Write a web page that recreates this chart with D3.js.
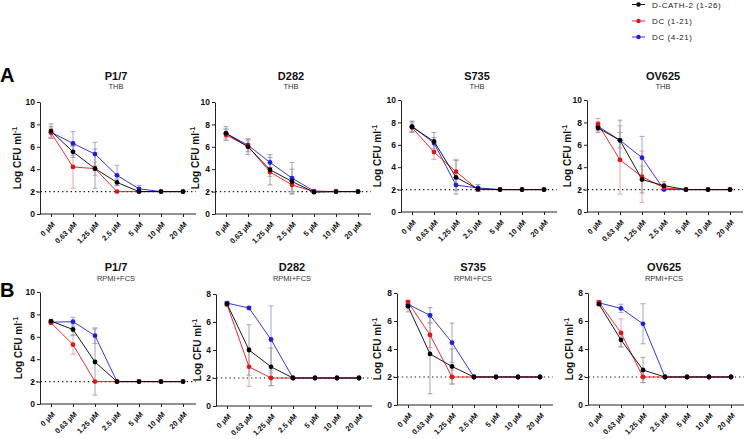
<!DOCTYPE html>
<html><head><meta charset="utf-8">
<script src="https://cdn.jsdelivr.net/npm/d3@7"></script>
<style>
html,body{margin:0;padding:0;background:#fff;}
svg{display:block;font-family:"Liberation Sans",Arial,sans-serif;}
</style></head>
<body>
<svg id="c" width="744" height="439"></svg>
<script>
// ---------- DATA ----------
const concentrations = ["0 µM","0.63 µM","1.25 µM","2.5 µM","5 µM","10 µM","20 µM"];
const seriesNames = ["D-CATH-2 (1-26)","DC (1-21)","DC (4-21)"];
const strains = ["P1/7","D282","S735","OV625"];
const media = ["THB","RPMI+FCS"];
const yMaxTHB = [10,10,10,10];
const yMaxRPMI = [10,8,8,8];
const yTicks10 = [0,2,4,6,8,10];
const yTicks8 = [0,2,4,6,8];
const detectionLimit = 2;

// THB
const thb_P17_cath   = [7.4,5.55,4.05,2.82,2.0,2,2];
const thb_P17_cath_sd= [0.65,0.5,1.75,0.3,0.1,0,0];
const thb_P17_dc121  = [7.25,4.2,4.05,2.0,2.0,2,2];
const thb_P17_dc121_sd=[0.4,1.9,0.6,0,0,0,0];
const thb_P17_dc421  = [7.3,6.3,5.35,3.45,2.25,2,2];
const thb_P17_dc421_sd=[0.5,1.05,1.05,0.9,0.3,0,0];

const thb_D282_cath   = [7.2,6.0,3.95,2.9,1.95,2,2];
const thb_D282_cath_sd= [0.6,0.7,1.35,1.1,0.05,0,0];
const thb_D282_dc121  = [7.05,6.05,3.75,2.6,2.0,2,2];
const thb_D282_dc121_sd=[0.5,0.5,0.4,0.6,0,0,0];
const thb_D282_dc421  = [7.2,6.15,4.6,3.2,2.05,2,2];
const thb_D282_dc421_sd=[0.4,0.55,0.45,1.4,0,0,0];

const thb_S735_cath   = [7.6,6.3,3.1,2.05,2,2,2];
const thb_S735_cath_sd= [0.5,0.8,1.5,0.2,0,0,0];
const thb_S735_dc121  = [7.55,5.35,3.6,2.0,2,2,2];
const thb_S735_dc121_sd=[0.4,0.65,1.1,0,0,0,0];
const thb_S735_dc421  = [7.65,6.15,2.4,2.15,2,2,2];
const thb_S735_dc421_sd=[0.45,0.5,0.5,0.3,0,0,0];

const thb_OV625_cath   = [7.5,6.4,2.9,2.35,2,2,2];
const thb_OV625_cath_sd= [0.4,1.8,1.2,0.35,0,0,0];
const thb_OV625_dc121  = [7.85,4.65,3.15,2.15,2,2,2];
const thb_OV625_dc121_sd=[0.5,3.05,2.3,0.2,0,0,0];
const thb_OV625_dc421  = [7.65,6.4,4.85,2.0,2,2,2];
const thb_OV625_dc421_sd=[0.4,0.7,1.9,0,0,0,0];

// RPMI+FCS
const rpmi_P17_cath   = [7.4,6.65,3.75,2,2,2,2];
const rpmi_P17_cath_sd= [0.1,0.5,2.95,0,0,0,0];
const rpmi_P17_dc121  = [7.25,5.3,2.0,2,2,2,2];
const rpmi_P17_dc121_sd=[0.1,0.85,0,0,0,0,0];
const rpmi_P17_dc421  = [7.3,7.35,6.1,2,2,2,2];
const rpmi_P17_dc421_sd=[0.1,0.4,0.7,0,0,0,0];

const rpmi_D282_cath   = [7.3,4.0,2.8,2,2,2,2];
const rpmi_D282_cath_sd= [0.1,1.8,1.35,0,0,0,0];
const rpmi_D282_dc121  = [7.25,2.8,2.0,2,2,2,2];
const rpmi_D282_dc121_sd=[0.1,1.4,0.55,0,0,0,0];
const rpmi_D282_dc421  = [7.35,7.0,4.75,2,2,2,2];
const rpmi_D282_dc421_sd=[0.1,0.1,2.4,0,0,0,0];

const rpmi_S735_cath   = [7.05,3.65,2.75,2,2,2,2];
const rpmi_S735_cath_sd= [0.4,2.85,1.25,0,0,0,0];
const rpmi_S735_dc121  = [7.35,5.0,2.0,2,2,2,2];
const rpmi_S735_dc121_sd=[0.15,0.9,0.5,0,0,0,0];
const rpmi_S735_dc421  = [7.2,6.4,4.45,2,2,2,2];
const rpmi_S735_dc421_sd=[0.2,0.55,1.4,0,0,0,0];

const rpmi_OV625_cath   = [7.2,4.65,2.5,2,2,2,2];
const rpmi_OV625_cath_sd= [0.1,0.5,0.9,0,0,0,0];
const rpmi_OV625_dc121  = [7.35,5.15,2.0,2,2,2,2];
const rpmi_OV625_dc121_sd=[0.1,1.0,0.4,0,0,0,0];
const rpmi_OV625_dc421  = [7.3,6.9,5.8,2,2,2,2];
const rpmi_OV625_dc421_sd=[0.1,0.3,1.43,0,0,0,0];

// ---------- STYLE / LAYOUT ----------
const colors = ["#000000","#e3141b","#1f1fd6"];
const errColors = ["#9a9a9a","#e89a9c","#9a9ad8"];

const panels = [
  {strain:0, medium:0, yMax:yMaxTHB[0], ticks:yTicks10, s:[[thb_P17_cath,thb_P17_cath_sd],[thb_P17_dc121,thb_P17_dc121_sd],[thb_P17_dc421,thb_P17_dc421_sd]]},
  {strain:1, medium:0, yMax:yMaxTHB[1], ticks:yTicks10, s:[[thb_D282_cath,thb_D282_cath_sd],[thb_D282_dc121,thb_D282_dc121_sd],[thb_D282_dc421,thb_D282_dc421_sd]]},
  {strain:2, medium:0, yMax:yMaxTHB[2], ticks:yTicks10, s:[[thb_S735_cath,thb_S735_cath_sd],[thb_S735_dc121,thb_S735_dc121_sd],[thb_S735_dc421,thb_S735_dc421_sd]]},
  {strain:3, medium:0, yMax:yMaxTHB[3], ticks:yTicks10, s:[[thb_OV625_cath,thb_OV625_cath_sd],[thb_OV625_dc121,thb_OV625_dc121_sd],[thb_OV625_dc421,thb_OV625_dc421_sd]]},
  {strain:0, medium:1, yMax:yMaxRPMI[0], ticks:yTicks10, s:[[rpmi_P17_cath,rpmi_P17_cath_sd],[rpmi_P17_dc121,rpmi_P17_dc121_sd],[rpmi_P17_dc421,rpmi_P17_dc421_sd]]},
  {strain:1, medium:1, yMax:yMaxRPMI[1], ticks:yTicks8, s:[[rpmi_D282_cath,rpmi_D282_cath_sd],[rpmi_D282_dc121,rpmi_D282_dc121_sd],[rpmi_D282_dc421,rpmi_D282_dc421_sd]]},
  {strain:2, medium:1, yMax:yMaxRPMI[2], ticks:yTicks8, s:[[rpmi_S735_cath,rpmi_S735_cath_sd],[rpmi_S735_dc121,rpmi_S735_dc121_sd],[rpmi_S735_dc421,rpmi_S735_dc421_sd]]},
  {strain:3, medium:1, yMax:yMaxRPMI[3], ticks:yTicks8, s:[[rpmi_OV625_cath,rpmi_OV625_cath_sd],[rpmi_OV625_dc121,rpmi_OV625_dc121_sd],[rpmi_OV625_dc421,rpmi_OV625_dc421_sd]]}
];
const layout = [
  {ax:40,  y0:214, yTop:102, lx:17,  ty:80,  sy:89},
  {ax:215, y0:214, yTop:102, lx:195, ty:80,  sy:89},
  {ax:401, y0:212, yTop:100, lx:377, ty:80,  sy:89},
  {ax:587, y0:212, yTop:100, lx:567, ty:80,  sy:89},
  {ax:40,  y0:404, yTop:292, lx:18,  ty:271, sy:281},
  {ax:216, y0:406, yTop:294, lx:197, ty:271, sy:281},
  {ax:397, y0:405, yTop:293, lx:377, ty:271, sy:281},
  {ax:588, y0:405, yTop:293, lx:569, ty:271, sy:281}
];

const svg = d3.select("#c");

panels.forEach((p,i)=>{
  const L = layout[i];
  const g = svg.append("g");
  const x = d3.scalePoint().domain(concentrations).range([L.ax+11, L.ax+143]);
  const y = d3.scaleLinear().domain([0,p.yMax]).range([L.y0, L.yTop]);

  // y axis
  const ya = g.append("g").attr("transform",`translate(${L.ax},0)`)
    .call(d3.axisLeft(y).tickValues(p.ticks).tickSize(3).tickSizeOuter(0).tickPadding(2));
  ya.select(".domain").attr("stroke","#222").attr("stroke-width",1);
  ya.selectAll(".tick line").attr("stroke","#222");
  ya.selectAll("text").attr("font-size","8.5px").attr("font-weight","bold").attr("fill","#111");

  // x axis
  const xa = g.append("g").attr("transform",`translate(0,${L.y0})`)
    .call(d3.axisBottom(x).tickSize(3).tickSizeOuter(0));
  xa.select(".domain").remove();
  xa.append("line").attr("x1",L.ax).attr("x2",L.ax+156).attr("y1",0).attr("y2",0)
    .attr("stroke","#222").attr("stroke-width",1);
  xa.selectAll(".tick line").attr("stroke","#222");
  xa.selectAll(".tick text")
    .attr("font-size","7.5px").attr("font-weight","bold").attr("fill","#111")
    .attr("text-anchor","end").attr("y",0).attr("dy","0.35em")
    .attr("transform","translate(2,9) rotate(-45)");

  // detection limit
  g.append("line").attr("x1",L.ax-8).attr("x2",L.ax+156)
    .attr("y1",y(detectionLimit)).attr("y2",y(detectionLimit))
    .attr("stroke","#111").attr("stroke-width",1.1).attr("stroke-dasharray","1.3,3");

  // error bars
  [2,1,0].forEach(k=>{
    const [vals,sd] = p.s[k];
    vals.forEach((v,j)=>{
      if(sd[j]<=0) return;
      const cx = x(concentrations[j]);
      const eg = g.append("g").attr("stroke",errColors[k]).attr("stroke-width",0.9);
      eg.append("line").attr("x1",cx).attr("x2",cx).attr("y1",y(v-sd[j])).attr("y2",y(v+sd[j]));
      eg.append("line").attr("x1",cx-2.5).attr("x2",cx+2.5).attr("y1",y(v-sd[j])).attr("y2",y(v-sd[j]));
      eg.append("line").attr("x1",cx-2.5).attr("x2",cx+2.5).attr("y1",y(v+sd[j])).attr("y2",y(v+sd[j]));
    });
  });

  // lines and points
  const line = d3.line().x((d,j)=>x(concentrations[j])).y(d=>y(d));
  [2,1,0].forEach(k=>{
    const vals = p.s[k][0];
    g.append("path").datum(vals).attr("d",line).attr("fill","none")
      .attr("stroke",colors[k]).attr("stroke-width",0.9);
  });
  [2,1,0].forEach(k=>{
    const vals = p.s[k][0];
    g.selectAll(null).data(vals).enter().append("circle")
      .attr("cx",(d,j)=>x(concentrations[j])).attr("cy",d=>y(d)).attr("r",2.4)
      .attr("fill",colors[k]);
  });

  // titles
  const cx = L.ax+76;
  g.append("text").attr("x",cx).attr("y",L.ty).attr("text-anchor","middle")
    .attr("font-size","11px").attr("font-weight","bold").attr("fill","#111").text(strains[p.strain]);
  g.append("text").attr("x",cx).attr("y",L.sy).attr("text-anchor","middle")
    .attr("font-size","7.5px").attr("fill","#333").text(media[p.medium]);

  // y label
  const cy = (L.y0+L.yTop)/2;
  const yl = g.append("text").attr("transform",`translate(${L.lx+4},${cy}) rotate(-90)`)
    .attr("text-anchor","middle").attr("font-size","10px").attr("font-weight","bold").attr("fill","#111");
  yl.append("tspan").text("Log CFU ml");
  yl.append("tspan").attr("dy","-4").attr("font-size","7px").text("-1");
});

// panel letters
svg.append("text").attr("x",0).attr("y",82).attr("font-size","20px").attr("font-weight","bold").text("A");
svg.append("text").attr("x",0).attr("y",297).attr("font-size","20px").attr("font-weight","bold").text("B");

// legend
const legY = [4.5,21,37];
seriesNames.forEach((n,k)=>{
  const lg = svg.append("g");
  lg.append("line").attr("x1",632).attr("x2",645).attr("y1",legY[k]).attr("y2",legY[k])
    .attr("stroke",colors[k]).attr("stroke-width",0.9);
  lg.append("circle").attr("cx",638.5).attr("cy",legY[k]).attr("r",2.2).attr("fill",colors[k]);
  lg.append("text").attr("x",652).attr("y",legY[k]+3).attr("font-size","8px")
    .attr("letter-spacing","0.6px").attr("fill","#222").text(n);
});
</script>
</body></html>
